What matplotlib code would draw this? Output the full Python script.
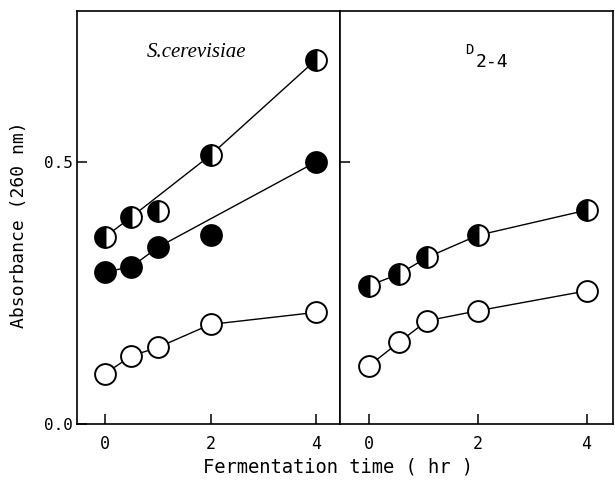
import numpy as np
import matplotlib
matplotlib.use("Agg")
import matplotlib.pyplot as plt

# Data
# S. cerevisiae panel
t_left = np.array([0, 0.5, 1, 2, 4])
sc_half = np.array([0.357, 0.395, 0.406, 0.513, 0.695])
sc_half_linked = np.array([True, True, False, True, True])
sc_filled = np.array([0.290, 0.300, 0.337, 0.360, 0.500])
sc_filled_linked = np.array([True, True, True, False, True])
sc_open = np.array([0.096, 0.130, 0.146, 0.190, 0.213])

# D2-4 panel
t_right = np.array([0, 0.55, 1.07, 2, 4])
d_half = np.array([0.264, 0.286, 0.318, 0.360, 0.408])
d_open = np.array([0.111, 0.156, 0.197, 0.216, 0.254])

y_ticks = [0.0, 0.5]
y_ticklabels = ["0.0", "0.5"]
x_ticks = [0, 2, 4]

mono = "DejaVu Sans Mono"
plt.rcParams['font.family'] = mono

W, H = 615, 482
fig = plt.figure(figsize=(W / 100, H / 100), dpi=100)

def px(x, y):
    return x / W, 1 - y / H

bottom = 1 - 424 / H
height = (424 - 10.5) / H
ax1 = fig.add_axes([77 / W, bottom, 263 / W, height])
ax2 = fig.add_axes([340 / W, bottom, 273 / W, height])

ms = 15
mew = 1.4
lw = 1.0

def series(ax, t, y, kind, linked=None):
    if linked is None:
        linked = np.ones(len(t), dtype=bool)
    ax.plot(t[linked], y[linked], '-', color='black', lw=lw, zorder=2)
    if kind == "half":
        ax.plot(t, y, 'o', ls='none', ms=ms, mew=mew, mec='black',
                fillstyle='left', mfc='black', mfcalt='white', zorder=3)
    elif kind == "filled":
        ax.plot(t, y, 'o', ls='none', ms=ms, mew=mew, mec='black',
                mfc='black', zorder=3)
    else:
        ax.plot(t, y, 'o', ls='none', ms=ms, mew=mew, mec='black',
                mfc='white', zorder=3)

series(ax1, t_left, sc_half, "half", sc_half_linked)
series(ax1, t_left, sc_filled, "filled", sc_filled_linked)
series(ax1, t_left, sc_open, "open")

series(ax2, t_right, d_half, "half")
series(ax2, t_right, d_open, "open")

ax1.set_xlim(-0.531, 4.455)
ax2.set_xlim(-0.533, 4.485)
for ax in (ax1, ax2):
    ax.set_ylim(0, 0.789)
    for s in ax.spines.values():
        s.set_linewidth(1.2)
    ax.set_xticks(x_ticks)
    ax.set_xticklabels([str(v) for v in x_ticks], fontsize=12)
    ax.tick_params(axis='both', direction='in', length=7, width=1.1)
    ax.tick_params(axis='x', pad=8)

ax1.set_yticks(y_ticks)
ax1.set_yticklabels(y_ticklabels, fontsize=11.5)
ax1.tick_params(axis='y', pad=3)
ax2.set_yticks([0.5])
ax2.set_yticklabels([])

fig.text(*px(196, 52), "S.cerevisiae", fontsize=15, style='italic',
         family='Liberation Serif', ha='center', va='center')
fig.text(*px(465, 50), "D", fontsize=10, ha='left', va='center')
fig.text(*px(476, 62), "2-4", fontsize=13, ha='left', va='center')

fig.text(*px(19, 225), "Absorbance (260 nm)", fontsize=13, rotation=90,
         ha='center', va='center')
fig.text(*px(338, 467), "Fermentation time ( hr )", fontsize=13.5,
         ha='center', va='center')

fig.savefig("out.png", dpi=100)
